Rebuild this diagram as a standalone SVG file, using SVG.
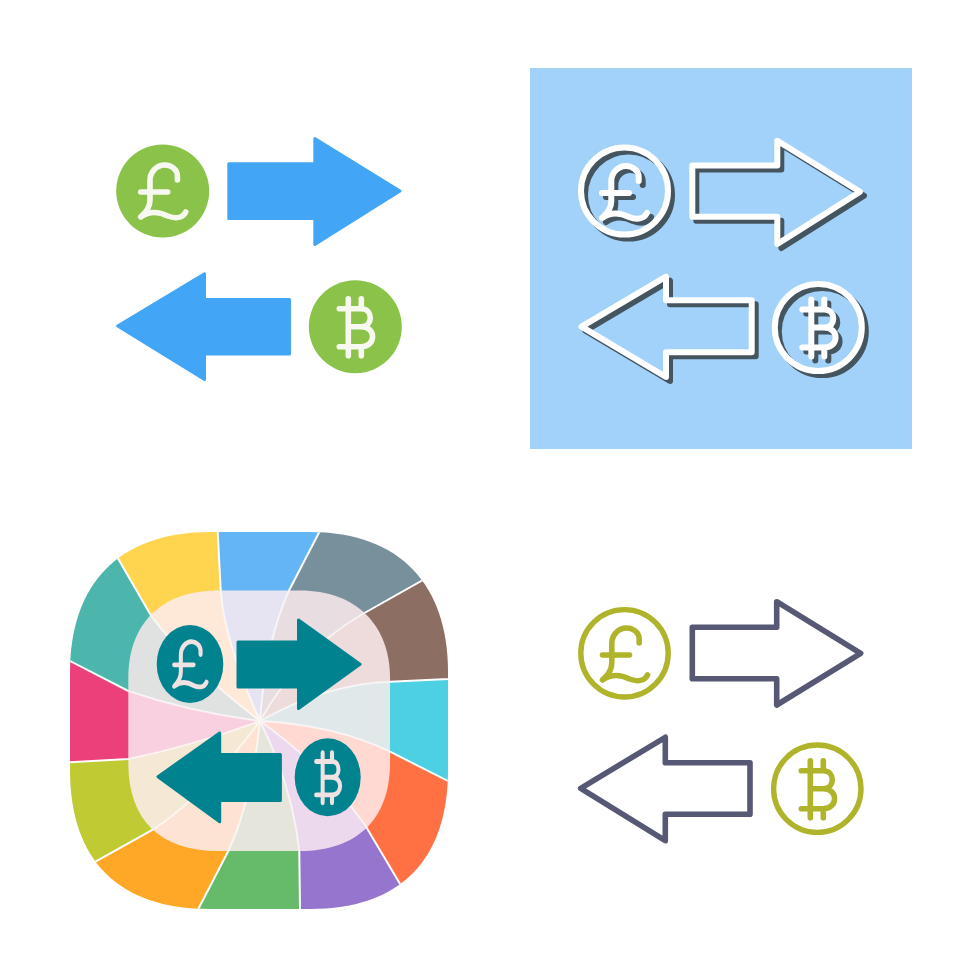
<svg xmlns="http://www.w3.org/2000/svg" xmlns:xlink="http://www.w3.org/1999/xlink" width="980" height="980" viewBox="0 0 980 980">
<style>
.g{fill:none;stroke-linecap:round;stroke-linejoin:round;stroke-width:5.6}
.ln{fill:none;stroke-linejoin:round;stroke-linecap:round;stroke-width:6}
.solid{stroke-width:3;stroke-linejoin:round}
.sep{fill:none;stroke:#fff;stroke-width:2}
</style>
<defs>
<g id="pound"><path d="M14.7,-11V-15C14.7,-22 8,-26 2,-26C-6,-26 -12.7,-19 -12.7,-11V9C-12.7,15 -15,20 -22,26C-12,19 -3,21 5,25C13,28 20,27 23,21M-22,1H5"/></g>
<g id="btc"><path d="M-7,-28V20M6,-28V-18M-7,20V29M6,20V29M-16,-18H6C18,-18 18,0 6,0H-7M6,0C21,0 21,20 6,20H-16"/></g>
<clipPath id="outerClip"><path d="M210,532H310C400,532 448,585 448,672V770C448,860 400,909 310,909H210C118,909 70,860 70,770V672C70,585 118,532 210,532Z"/></clipPath>
<clipPath id="innerClip"><path d="M218,590.5H300C356,590.5 390,625 390,678V763C390,820 356,851 300,851H218C160,851 128.3,820 128.3,763V678C128.3,625 160,590.5 218,590.5Z"/></clipPath>
<path id="w1" d="M260,721Q224,640 220.7,590L211.7,416L379.3,416L289.3,590Q266,640 260,721Z"/>
<path id="w2" d="M260,721Q266,640 289.3,590L379.3,416L534.6,517L362.7,614Q300,650 260,721Z"/>
<path id="w3" d="M260,721Q300,650 362.7,614L534.6,517L564,673.6L390,681.7Q325,684 260,721Z"/>
<path id="w4" d="M260,721Q325,684 390,681.7L564,673.6L564,839.6L390,751.7Q335,725 260,721Z"/>
<path id="w5" d="M260,721Q335,725 390,751.7L564,839.6L465,993L365,825Q322,765 260,721Z"/>
<path id="w6" d="M260,721Q322,765 365,825L465,993L301.4,1025L299.3,851Q292,785 260,721Z"/>
<path id="w7" d="M260,721Q292,785 299.3,851L301.4,1025L138.3,1025L228.3,851Q252,800 260,721Z"/>
<path id="w8" d="M260,721Q252,800 228.3,851L138.3,1025L-15,923.4L155,828.3Q205,795 260,721Z"/>
<path id="w9" d="M260,721Q205,795 155,828.3L-15,923.4L-46.6,769L128.3,759Q195,745 260,721Z"/>
<path id="w10" d="M260,721Q195,745 128.3,759L-46.6,769L-46.6,601L128.3,691Q190,712 260,721Z"/>
<path id="w11" d="M260,721Q190,712 128.3,691L-46.6,601L54.5,448.7L151.7,616.7Q190,668 260,721Z"/>
<path id="w12" d="M260,721Q190,668 151.7,616.7L54.5,448.7L211.7,416L220.7,590Q224,640 260,721Z"/>
<path id="seps" d="M260,721Q224,640 220.7,590L211.7,416M260,721Q266,640 289.3,590L379.3,416M260,721Q300,650 362.7,614L534.6,517M260,721Q325,684 390,681.7L564,673.6M260,721Q335,725 390,751.7L564,839.6M260,721Q322,765 365,825L465,993M260,721Q292,785 299.3,851L301.4,1025M260,721Q252,800 228.3,851L138.3,1025M260,721Q205,795 155,828.3L-15,923.4M260,721Q195,745 128.3,759L-46.6,769M260,721Q190,712 128.3,691L-46.6,601M260,721Q190,668 151.7,616.7L54.5,448.7"/>
<g id="outlineTR">
<circle cx="624.5" cy="191" r="43.5"/>
<path d="M692.3,165.6H777.3V140.7L860,191.7L777.3,244V216.7H692.3Z"/>
<path d="M581.5,326.7L666,276.7V300.3H751.7V352.3H666V377Z"/>
<circle cx="818.3" cy="327.5" r="43.5"/>
<use xlink:href="#pound" href="#pound" transform="translate(624,192)"/>
<use xlink:href="#btc" href="#btc" transform="translate(818.3,327.5)"/>
</g>
</defs>
<rect width="980" height="980" fill="#fff"/>

<g id="icon-flat">
<circle cx="162.7" cy="191" r="46.5" fill="#8BC34A"/>
<use href="#pound" transform="translate(162.7,191)" class="g" stroke="#F7F9F0"/>
<path class="solid" fill="#42A5F5" stroke="#42A5F5" d="M228.8,163.8H314.8V138.5L400,191L314.8,244.5V218.5H228.8Z"/>
<path class="solid" fill="#42A5F5" stroke="#42A5F5" d="M117.7,326L204.5,273.8V299.5H289.5V354H204.5V379.5Z"/>
<circle cx="355.3" cy="326.7" r="46.5" fill="#8BC34A"/>
<use href="#btc" transform="translate(355.3,326.7)" class="g" stroke="#F7F9F0"/>
</g>

<g id="icon-shadow">
<rect x="530" y="68" width="382" height="381" fill="#A2D2F9"/>
<use href="#outlineTR" class="ln" transform="translate(4,4)" stroke="#455560"/>
<use href="#outlineTR" class="ln" stroke="#fff"/>
</g>

<g id="icon-colour">
<g clip-path="url(#outerClip)">
<rect x="60" y="520" width="400" height="400" fill="#fff"/>
<use href="#w1" fill="#64B5F6"/>
<use href="#w2" fill="#78909C"/>
<use href="#w3" fill="#8D6E63"/>
<use href="#w4" fill="#4DD0E1"/>
<use href="#w5" fill="#FF7043"/>
<use href="#w6" fill="#9575CD"/>
<use href="#w7" fill="#66BB6A"/>
<use href="#w8" fill="#FFA726"/>
<use href="#w9" fill="#C0CA33"/>
<use href="#w10" fill="#EC407A"/>
<use href="#w11" fill="#4DB6AC"/>
<use href="#w12" fill="#FFD54F"/>
<use href="#seps" class="sep"/>
</g>
<g clip-path="url(#innerClip)">
<use href="#w1" fill="#E6E4F3"/>
<use href="#w2" fill="#E8DDE0"/>
<use href="#w3" fill="#EDDCDB"/>
<use href="#w4" fill="#E1E8EA"/>
<use href="#w5" fill="#FFD9D2"/>
<use href="#w6" fill="#ECD9EE"/>
<use href="#w7" fill="#E6E5DB"/>
<use href="#w8" fill="#FDE3D3"/>
<use href="#w9" fill="#F5E9D5"/>
<use href="#w10" fill="#F9D0DF"/>
<use href="#w11" fill="#E0E2E1"/>
<use href="#w12" fill="#FEE9D9"/>
<use href="#seps" class="sep" stroke-opacity="0.6"/>
</g>
<ellipse cx="190" cy="664" rx="33.3" ry="39" fill="#00838F"/>
<use href="#pound" transform="translate(190,664) scale(.72,.86)" class="g" stroke="#F0E2E2"/>
<path class="solid" fill="#00838F" stroke="#00838F" d="M238,642H298.5V620L360,664.3L298.5,708.5V687H238Z"/>
<path class="solid" fill="#00838F" stroke="#00838F" d="M158,776.7L219.7,733V754.6H280.4V800.4H219.7V821.8Z"/>
<ellipse cx="327.7" cy="777.3" rx="33" ry="39" fill="#00838F"/>
<use href="#btc" transform="translate(327.7,777.3) scale(.72,.88)" class="g" stroke="#F0E2E2"/>
</g>

<g id="icon-line">
<circle cx="624.5" cy="653.3" r="43.7" fill="none" stroke="#AFB42B" stroke-width="5.4"/>
<use href="#pound" transform="translate(624.5,654)" class="g" stroke="#AFB42B"/>
<path fill="none" stroke-linejoin="round" stroke="#565874" stroke-width="5.6" d="M692.3,627.3H776.7V601.7L860.7,653.3L776.7,705V678.7H692.3Z"/>
<path fill="none" stroke-linejoin="round" stroke="#565874" stroke-width="5.6" d="M580.7,788.3L665.3,737.3V762.7H750V814.3H665.3V840.7Z"/>
<circle cx="817.3" cy="788.7" r="43.7" fill="none" stroke="#AFB42B" stroke-width="5.4"/>
<use href="#btc" transform="translate(817.3,788.7)" class="g" stroke="#AFB42B"/>
</g>
</svg>
